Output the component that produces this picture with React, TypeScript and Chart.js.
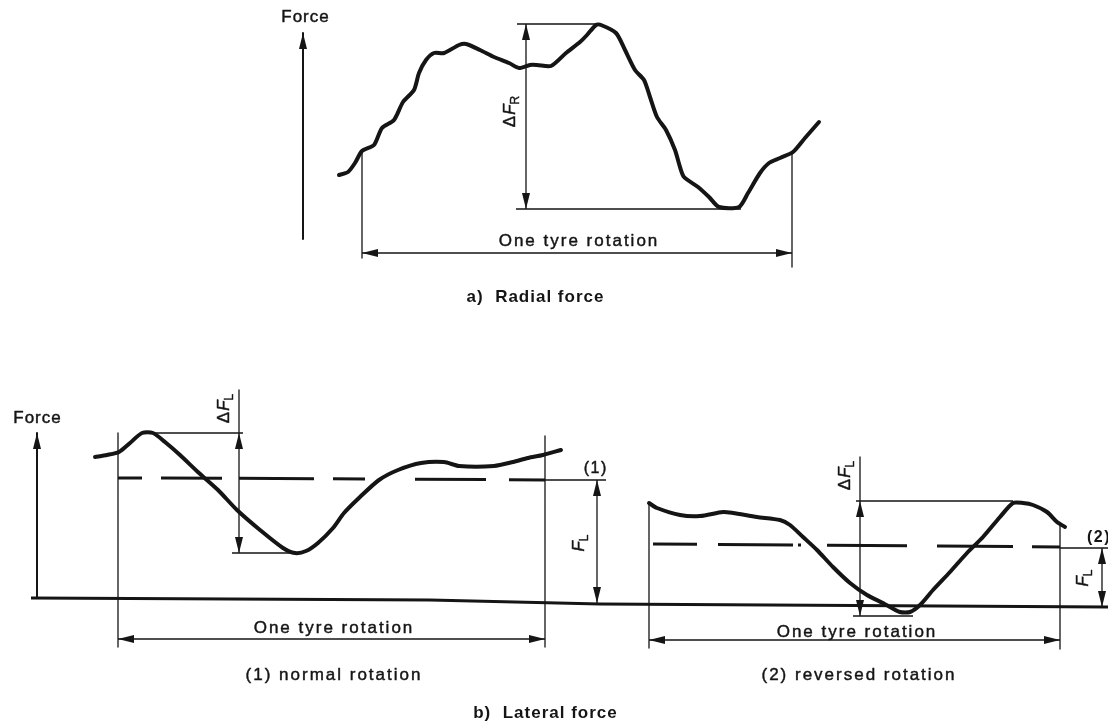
import React, { useEffect, useRef } from "react";
import { Chart, registerables } from "chart.js";

Chart.register(...registerables);

const INK = "#151515";
const FONT = '"Liberation Sans", Arial, Helvetica, sans-serif';

// ---- Data (diagram units: x = rotation position, y = force level, drawn downward-reversed) ----
// a) Radial force trace
const radialX = [339, 348, 355, 362, 374, 382, 394, 403, 414, 419, 426, 434, 444, 459, 466, 480, 494, 509, 519, 530, 537, 551, 566, 580, 587, 596, 601, 616, 625, 635, 644, 650, 657, 666, 675, 680, 684, 698, 709, 719, 739, 748, 760, 769, 780, 793, 805, 819];
const radialY = [175, 172, 163, 151, 145, 128, 120, 102, 90, 73, 60, 53, 53, 45, 44, 50, 57, 63, 68, 65, 65, 66, 53, 42, 35, 25, 25, 33, 50, 70, 80, 97, 117, 130, 150, 167, 177, 187, 197, 207, 207, 193, 173, 163, 158, 152, 138, 122];

// b) Lateral force, (1) normal rotation
const normalX = [95, 107, 119, 130, 142, 153, 165, 180, 199, 218, 237, 260, 283, 295, 306, 318, 333, 344, 360, 379, 398, 421, 444, 459, 494, 513, 528, 543, 561];
const normalY = [457, 455, 452, 443, 433, 433, 442, 455, 473, 490, 510, 530, 548, 553, 551, 543, 528, 513, 497, 480, 470, 463, 462, 466, 466, 462, 458, 455, 450];

// b) Lateral force, (2) reversed rotation
const reversedX = [649, 657, 680, 700, 723, 733, 757, 780, 790, 803, 817, 833, 850, 867, 883, 900, 910, 920, 933, 950, 967, 983, 1000, 1013, 1023, 1033, 1047, 1057, 1065];
const reversedY = [503, 508, 515, 516, 512, 513, 517, 520, 525, 537, 550, 567, 583, 595, 603, 612, 612, 605, 590, 572, 553, 537, 517, 503, 503, 505, 512, 522, 527];

// Zero-force base line of panel b)
const baseX = [31, 430, 600, 1108];
const baseY = [598, 600, 604, 607];

// Mean lateral force levels (dashed), as dash segments [x1, x2, y1, y2]
const meanNormal = [
  [118, 142, 478, 478], [161, 222, 478, 478.3], [239, 314, 478.3, 478.8], [333, 365, 478.8, 479],
  [415, 486, 479.2, 479.6], [509, 545, 479.7, 480],
];
const meanReversed = [
  [653, 697, 544, 544.3], [718, 793, 544.5, 545], [798, 801, 545, 545], [827, 907, 545.2, 545.8],
  [937, 1013, 546, 546.5], [1032, 1060, 546.7, 547],
];

// Force axes [x, yTop, yBottom]
const forceAxes = [
  [303, 33, 239],
  [37, 433, 598],
];

// Thin dimension / extension lines [x1, y1, x2, y2]
const thinLines = [
  // a)
  [362, 151, 362, 258], [792, 152, 792, 267], [362, 253, 792, 253],
  [517, 24, 600, 24], [516, 209, 741, 209], [526, 24, 526, 209],
  // b) (1)
  [118, 433, 118, 647], [545, 436, 545, 647], [118, 639, 545, 639],
  [545, 480, 606, 480], [597, 480, 597, 603],
  [142, 433, 243, 433], [232, 553, 302, 553], [239, 390, 239, 553],
  // b) (2)
  [649, 503, 649, 648], [1060, 525, 1060, 649], [649, 640, 1060, 640],
  [1060, 548, 1108, 548], [1102, 548, 1102, 607],
  [856, 501, 1013, 501], [853, 616, 913, 616], [860, 457, 860, 616],
];

// Arrow heads [x, y, direction]
const arrowHeads: [number, number, string][] = [
  [303, 33, "up"], [362, 253, "left"], [792, 253, "right"], [526, 24, "up"], [526, 209, "down"],
  [37, 433, "up"], [118, 639, "left"], [545, 639, "right"], [239, 433, "up"], [239, 553, "down"],
  [597, 480, "up"], [597, 603, "down"],
  [649, 640, "left"], [1060, 640, "right"], [860, 501, "up"], [860, 616, "down"],
  [1102, 548, "up"], [1102, 607, "down"],
];

// Texts
const forceLabel = "Force";
const rotationLabel = "One tyre rotation";
const titleA = "a)  Radial force";
const titleB = "b)  Lateral force";
const caption1 = "(1) normal rotation";
const caption2 = "(2) reversed rotation";
const mark1 = "(1)";
const mark2 = "(2)";

type Run = { t: string; italic?: boolean; sub?: boolean };
type Label = { runs: Run[]; x: number; y: number; size: number; bold?: boolean; rot?: number; spacing?: number; align?: "center" | "left" };

const labels: Label[] = [
  { runs: [{ t: forceLabel }], x: 305, y: 17, size: 17, spacing: 1 },
  { runs: [{ t: rotationLabel }], x: 578, y: 241, size: 17, spacing: 2 },
  { runs: [{ t: "Δ" }, { t: "F", italic: true }, { t: "R", sub: true }], x: 510, y: 112, size: 17, rot: -Math.PI / 2 },
  { runs: [{ t: titleA }], x: 535, y: 297, size: 17, bold: true, spacing: 1 },

  { runs: [{ t: forceLabel }], x: 37, y: 418, size: 17, spacing: 1 },
  { runs: [{ t: rotationLabel }], x: 333, y: 628, size: 17, spacing: 2 },
  { runs: [{ t: "Δ" }, { t: "F", italic: true }, { t: "L", sub: true }], x: 224, y: 409, size: 17, rot: -Math.PI / 2 },
  { runs: [{ t: "F", italic: true }, { t: "L", sub: true }], x: 579, y: 543, size: 17, rot: -Math.PI / 2 },
  { runs: [{ t: mark1 }], x: 595, y: 469, size: 16, spacing: 1.5 },
  { runs: [{ t: caption1 }], x: 333, y: 675, size: 17, spacing: 2 },

  { runs: [{ t: rotationLabel }], x: 856, y: 632, size: 17, spacing: 2 },
  { runs: [{ t: "Δ" }, { t: "F", italic: true }, { t: "L", sub: true }], x: 845, y: 476, size: 17, rot: -Math.PI / 2 },
  { runs: [{ t: "F", italic: true }, { t: "L", sub: true }], x: 1083, y: 578, size: 17, rot: -Math.PI / 2 },
  { runs: [{ t: mark2 }], x: 1087, y: 538, size: 16, spacing: 1.5, bold: true, align: "left" },
  { runs: [{ t: caption2 }], x: 858, y: 675, size: 17, spacing: 2 },

  { runs: [{ t: titleB }], x: 545, y: 713, size: 17, bold: true, spacing: 1 },
];

const HEAD_LEN = 16;
const HEAD_HALF = 4;

function pts(xs: number[], ys: number[]) {
  return xs.map((x, i) => ({ x, y: ys[i] }));
}

function fontFor(r: Run, size: number, bold?: boolean) {
  const s = r.sub ? Math.round(size * 0.72) : size;
  return `${r.italic ? "italic " : ""}${bold ? "bold " : ""}${s}px ${FONT}`;
}

const overlayPlugin = {
  id: "overlay",
  afterDatasetsDraw(chart: any) {
    const { ctx } = chart;
    const sx = chart.scales.x;
    const sy = chart.scales.y;
    ctx.save();
    ctx.fillStyle = INK;
    ctx.strokeStyle = INK;
    const ang: Record<string, number> = { up: -Math.PI / 2, down: Math.PI / 2, left: Math.PI, right: 0 };
    for (const [x, y, d] of arrowHeads) {
      ctx.save();
      ctx.translate(sx.getPixelForValue(x), sy.getPixelForValue(y));
      ctx.rotate(ang[d]);
      ctx.beginPath();
      ctx.moveTo(0, 0);
      ctx.lineTo(-HEAD_LEN, -HEAD_HALF);
      ctx.lineTo(-HEAD_LEN, HEAD_HALF);
      ctx.closePath();
      ctx.fill();
      ctx.restore();
    }
    ctx.textBaseline = "middle";
    ctx.textAlign = "left";
    ctx.lineWidth = 0.45;
    ctx.lineJoin = "round";
    for (const lb of labels) {
      ctx.save();
      ctx.translate(sx.getPixelForValue(lb.x), sy.getPixelForValue(lb.y));
      if (lb.rot) ctx.rotate(lb.rot);
      (ctx as any).letterSpacing = `${lb.spacing || 0}px`;
      const widths = lb.runs.map((r) => {
        ctx.font = fontFor(r, lb.size, lb.bold);
        return ctx.measureText(r.t).width;
      });
      const total = widths.reduce((a, b) => a + b, 0) - (lb.spacing || 0);
      let cx = lb.align === "left" ? 0 : -total / 2;
      lb.runs.forEach((r, i) => {
        ctx.font = fontFor(r, lb.size, lb.bold);
        const ty = r.sub ? lb.size * 0.32 : 0;
        ctx.fillText(r.t, cx, ty);
        if (!lb.bold) ctx.strokeText(r.t, cx, ty);
        cx += widths[i] + (r.t === "Δ" ? 1 : 0);
      });
      ctx.restore();
    }
    ctx.restore();
  },
};

export default function App() {
  const ref = useRef<HTMLCanvasElement | null>(null);
  useEffect(() => {
    if (!ref.current) return;
    const trace = (data: any[], width: number) => ({
      data,
      borderColor: INK,
      borderWidth: width,
      pointRadius: 0,
      tension: 0.25,
      borderCapStyle: "round",
      borderJoinStyle: "round",
      fill: false,
    });
    const thinData: { x: number; y: number | null }[] = [];
    for (const s of thinLines) thinData.push({ x: s[0], y: s[1] }, { x: s[2], y: s[3] }, { x: s[2], y: null });
    const axisData: { x: number; y: number | null }[] = [];
    for (const a of forceAxes) axisData.push({ x: a[0], y: a[1] }, { x: a[0], y: a[2] }, { x: a[0], y: null });
    const dashData = (list: number[][]) => {
      const out: { x: number; y: number | null }[] = [];
      for (const s of list) out.push({ x: s[0], y: s[2] }, { x: s[1], y: s[3] }, { x: s[1], y: null });
      return out;
    };
    const chart = new Chart(ref.current, {
      type: "line",
      data: {
        datasets: [
          trace(pts(radialX, radialY), 4),
          trace(pts(normalX, normalY), 4),
          trace(pts(reversedX, reversedY), 4),
          { ...trace(pts(baseX, baseY), 3), tension: 0, borderCapStyle: "butt" },
          { ...trace(dashData(meanNormal), 3), tension: 0, borderCapStyle: "butt" },
          { ...trace(dashData(meanReversed), 3), tension: 0, borderCapStyle: "butt" },
          { ...trace(axisData, 2), tension: 0, borderCapStyle: "butt" },
          { ...trace(thinData, 1.3), tension: 0, borderCapStyle: "butt" },
        ] as any,
      },
      options: {
        animation: false,
        responsive: false,
        events: [],
        layout: { padding: 0 },
        plugins: { legend: { display: false }, tooltip: { enabled: false } },
        scales: {
          x: { type: "linear", min: 0, max: 1108, display: false },
          y: { type: "linear", min: 0, max: 725, reverse: true, display: false },
        },
      },
      plugins: [overlayPlugin],
    });
    return () => chart.destroy();
  }, []);
  return (
    <div style={{ position: "fixed", left: 0, top: 0, width: 1108, height: 725, background: "#fff" }}>
      <canvas ref={ref} width={1108} height={725} />
    </div>
  );
}
